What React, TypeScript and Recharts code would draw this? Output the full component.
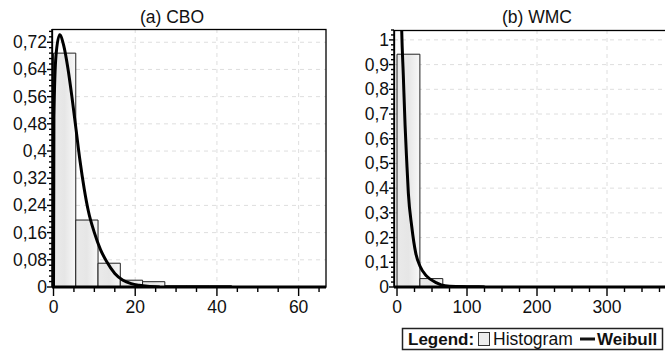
import React from 'react';
import { ComposedChart, Line, XAxis, YAxis, CartesianGrid, ReferenceArea } from 'recharts';

// ---------- (a) CBO ----------
const cboCurveX = [0, 0.1, 0.6, 1.5, 2.5, 3.5, 4.5, 5.5, 6.5, 7.5, 8.5, 10, 11.5, 13, 15, 17, 19, 21, 23, 26];
const cboCurveY = [0, 0.5, 0.68, 0.742, 0.71, 0.645, 0.56, 0.465, 0.37, 0.29, 0.225, 0.16, 0.11, 0.075, 0.04, 0.02, 0.01, 0.005, 0.002, 0.0];
const cboBinEdges = [0, 5.45, 10.9, 16.35, 21.8, 27.25, 32.7, 38.15, 43.6];
const cboBinHeights = [0.688, 0.197, 0.07, 0.02, 0.0156, 0.004, 0.004, 0.004];
const cboYMajor = [0, 0.08, 0.16, 0.24, 0.32, 0.4, 0.48, 0.56, 0.64, 0.72];
const cboYLabels = ['0', '0,08', '0,16', '0,24', '0,32', '0,4', '0,48', '0,56', '0,64', '0,72'];
const cboXMajor = [0, 20, 40, 60];
const cboXLabels = ['0', '20', '40', '60'];

// ---------- (b) WMC ----------
const wmcCurveX = [5, 6.7, 9, 11.5, 13.9, 16.2, 21, 26.7, 32.9, 42.4, 56.6, 68.6, 85, 105, 125];
const wmcCurveY = [1.3, 1.04, 0.857, 0.656, 0.508, 0.38, 0.246, 0.138, 0.084, 0.044, 0.017, 0.005, 0.002, 0.001, 0.0005];
const wmcBinEdges = [0, 32.7, 65.4, 98, 126];
const wmcBinHeights = [0.942, 0.034, 0.004, 0.003];
const wmcYMajor = [0, 0.1, 0.2, 0.3, 0.4, 0.5, 0.6, 0.7, 0.8, 0.9, 1];
const wmcYLabels = ['0', '0,1', '0,2', '0,3', '0,4', '0,5', '0,6', '0,7', '0,8', '0,9', '1'];
const wmcXMajor = [0, 100, 200, 300];
const wmcXLabels = ['0', '100', '200', '300'];

const FONT = '"Liberation Sans", Arial, Helvetica, sans-serif';

const cboCurve = cboCurveX.map((x, i) => ({ x, y: cboCurveY[i] }));
const wmcCurve = wmcCurveX.map((x, i) => ({ x, y: wmcCurveY[i] }));
const cboBins = cboBinHeights.map((h, i) => ({ x1: cboBinEdges[i], x2: cboBinEdges[i + 1], h }));
const wmcBins = wmcBinHeights.map((h, i) => ({ x1: wmcBinEdges[i], x2: wmcBinEdges[i + 1], h }));

function withMinors(majors: number[], sub: number, max: number) {
  const out: number[] = [];
  const step = (majors[1] - majors[0]) / sub;
  for (let i = 0; ; i++) {
    const v = +(majors[0] + i * step).toFixed(6);
    if (v > max + 1e-9) break;
    out.push(v);
  }
  return out;
}

function labelFor(v: number, majors: number[], labels: string[]) {
  const idx = majors.findIndex((m) => Math.abs(m - v) < 1e-6);
  return idx >= 0 ? labels[idx] : null;
}

const makeYTick = (majors: number[], labels: string[]) => (props: any) => {
  const { x, y, payload } = props;
  const lab = labelFor(payload.value, majors, labels);
  return (
    <g>
      <line x1={x - (lab !== null ? 5 : 3)} x2={x} y1={y} y2={y} stroke="#000" strokeWidth={1.4} />
      {lab !== null && (
        <text x={x - 5} y={y + 6} textAnchor="end" fontSize={17.5} fontFamily={FONT} fill="#111">
          {lab}
        </text>
      )}
    </g>
  );
};

const makeXTick = (majors: number[], labels: string[]) => (props: any) => {
  const { x, y, payload } = props;
  const lab = labelFor(payload.value, majors, labels);
  return (
    <g>
      <line x1={x} x2={x} y1={y} y2={y + (lab !== null ? 9 : 5)} stroke="#000" strokeWidth={1.4} />
      {lab !== null && (
        <text x={x} y={y + 26} textAnchor="middle" fontSize={17.5} fontFamily={FONT} fill="#111">
          {lab}
        </text>
      )}
    </g>
  );
};

function Panel(props: {
  curve: { x: number; y: number }[];
  bins: { x1: number; x2: number; h: number }[];
  xDomain: [number, number];
  yDomain: [number, number];
  xMajor: number[];
  xLabels: string[];
  xSub: number;
  yMajor: number[];
  yLabels: string[];
  ySub: number;
  width: number;
  yWidth: number;
  marginRight: number;
  marginTop: number;
}) {
  const xTicks = withMinors(props.xMajor, props.xSub, props.xDomain[1]);
  const yTicks = withMinors(props.yMajor, props.ySub, props.yDomain[1]);
  return (
    <ComposedChart
      width={props.width}
      height={330}
      data={props.curve}
      margin={{ top: props.marginTop, right: props.marginRight, left: 0, bottom: 0 }}
    >
      <CartesianGrid
        stroke="#dedede"
        strokeDasharray="4 4"
        horizontalValues={props.yMajor.filter((v) => v > 0)}
        verticalValues={props.xMajor.filter((v) => v > 0)}
      />
      {props.bins.map((b, i) => (
        <ReferenceArea
          key={i}
          x1={b.x1}
          x2={b.x2}
          y1={0}
          y2={b.h}
          fill="url(#barGrad)"
          fillOpacity={1}
          stroke="#222"
          strokeWidth={1}
          ifOverflow="visible"
        />
      ))}
      <XAxis
        type="number"
        dataKey="x"
        domain={props.xDomain}
        allowDataOverflow
        ticks={xTicks}
        interval={0}
        tickSize={0}
        tickMargin={0}
        tickLine={false}
        height={43}
        axisLine={{ stroke: '#000', strokeWidth: 3 }}
        tick={makeXTick(props.xMajor, props.xLabels)}
      />
      <YAxis
        type="number"
        domain={props.yDomain}
        allowDataOverflow
        ticks={yTicks}
        interval={0}
        tickSize={0}
        tickMargin={0}
        tickLine={false}
        width={props.yWidth}
        axisLine={{ stroke: '#000', strokeWidth: 1.5 }}
        tick={makeYTick(props.yMajor, props.yLabels)}
      />
      <Line
        type="monotone"
        dataKey="y"
        stroke="#000"
        strokeWidth={3}
        dot={false}
        activeDot={false}
        isAnimationActive={false}
      />
    </ComposedChart>
  );
}

export default function App() {
  return (
    <div
      style={{
        position: 'fixed',
        left: 0,
        top: 0,
        width: 665,
        height: 352,
        overflow: 'hidden',
        background: '#fff',
      }}
    >
      <svg width={0} height={0} style={{ position: 'absolute' }}>
        <defs>
          <linearGradient id="barGrad" x1="0" y1="0" x2="1" y2="0">
            <stop offset="0%" stopColor="#eaeaea" />
            <stop offset="50%" stopColor="#e6e6e6" />
            <stop offset="100%" stopColor="#f8f8f8" />
          </linearGradient>
        </defs>
      </svg>
      <div style={{ position: 'absolute', left: 0, top: 0 }}>
        <Panel
          curve={cboCurve}
          bins={cboBins}
          xDomain={[-0.37, 66.7]}
          yDomain={[0, 0.759]}
          xMajor={cboXMajor}
          xLabels={cboXLabels}
          xSub={4}
          yMajor={cboYMajor}
          yLabels={cboYLabels}
          ySub={5}
          width={340}
          yWidth={52}
          marginRight={14}
          marginTop={29}
        />
      </div>
      <div style={{ position: 'absolute', left: 340, top: 0 }}>
        <Panel
          curve={wmcCurve}
          bins={wmcBins}
          xDomain={[-4.3, 390]}
          yDomain={[0, 1.04]}
          xMajor={wmcXMajor}
          xLabels={wmcXLabels}
          xSub={4}
          yMajor={wmcYMajor}
          yLabels={wmcYLabels}
          ySub={5}
          width={340}
          yWidth={54}
          marginRight={10}
          marginTop={30}
        />
      </div>
      <svg
        width={665}
        height={352}
        style={{ position: 'absolute', left: 0, top: 0, pointerEvents: 'none' }}
      >
        <text x={172} y={23} textAnchor="middle" fontSize={17.5} fontFamily={FONT} fill="#111">
          (a) CBO
        </text>
        <text x={537} y={23} textAnchor="middle" fontSize={17.5} fontFamily={FONT} fill="#111">
          (b) WMC
        </text>
        <rect x={52.5} y={29.5} width={273.5} height={257.5} fill="none" stroke="#000" strokeWidth={1.3} />
        <rect x={394.5} y={30.5} width={300} height={256.5} fill="none" stroke="#000" strokeWidth={1.3} />
        <rect x={402.5} y={328.5} width={260} height={21} fill="#fff" stroke="#222" strokeWidth={1.5} />
        <text x={408} y={345} fontSize={17} fontWeight="bold" fontFamily={FONT} fill="#111">
          Legend:
        </text>
        <rect x={478.5} y={332.5} width={11} height={13} fill="#ececec" stroke="#333" strokeWidth={1} />
        <text x={493} y={345} fontSize={17.5} fontFamily={FONT} fill="#111">
          Histogram
        </text>
        <line x1={580} x2={595} y1={339} y2={339} stroke="#111" strokeWidth={3} />
        <text x={597} y={345} fontSize={17} fontWeight="bold" fontFamily={FONT} fill="#111">
          Weibull
        </text>
      </svg>
    </div>
  );
}
